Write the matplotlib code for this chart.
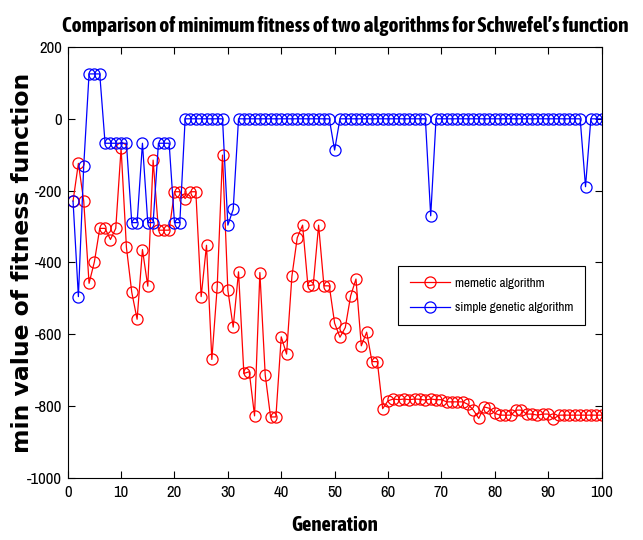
import numpy as np
import matplotlib
matplotlib.use('Agg')
import matplotlib.pyplot as plt
from matplotlib import font_manager

# Data: minimum fitness per generation
generations = list(range(1, 101))

memetic = [
    -229, -124, -229, -458, -398, -305, -305, -336, -305, -82,
    -358, -483, -558, -364, -466, -115, -310, -310, -310, -203,
    -203, -222, -203, -203, -495, -352, -670, -469, -101, -477,
    -580, -426, -709, -704, -827, -428, -713, -830, -830, -607,
    -655, -438, -331, -296, -465, -462, -296, -465, -465, -569,
    -608, -581, -493, -446, -632, -594, -676, -676, -807, -785,
    -780, -782, -780, -782, -780, -781, -783, -780, -782, -782,
    -788, -788, -788, -788, -795, -811, -834, -802, -806, -820,
    -825, -825, -825, -811, -811, -822, -822, -825, -822, -822,
    -836, -825, -825, -825, -825, -825, -825, -825, -825, -825,
]

simple_ga = [
    -229, -495, -131, 125, 125, 125, -68, -68, -68, -68,
    -68, -289, -289, -68, -289, -289, -68, -68, -68, -289,
    -289, 0, 0, 0, 0, 0, 0, 0, 0, -296,
    -252, 0, 0, 0, 0, 0, 0, 0, 0, 0,
    0, 0, 0, 0, 0, 0, 0, 0, 0, -87,
    0, 0, 0, 0, 0, 0, 0, 0, 0, 0,
    0, 0, 0, 0, 0, 0, 0, -270, 0, 0,
    0, 0, 0, 0, 0, 0, 0, 0, 0, 0,
    0, 0, 0, 0, 0, 0, 0, 0, 0, 0,
    0, 0, 0, 0, 0, 0, -189, 0, 0, 0,
]

x_ticks = list(range(0, 101, 10))
y_ticks = list(range(-1000, 201, 200))

plt.rcParams['axes.unicode_minus'] = False

# look for a narrow / condensed face (regular and bold), else Liberation Sans
narrow = {'family': 'Liberation Sans'}
narrow_bold = {'family': 'Liberation Sans'}
cands = [f for f in font_manager.fontManager.ttflist
         if 'Narrow' in f.name or 'Condensed' in f.name]
if cands:
    narrow = {'family': cands[0].name}
    bold = [f for f in cands if int(f.weight) >= 600 if isinstance(f.weight, int)] or \
           [f for f in cands if str(f.weight) in ('bold', 'heavy', 'black', 'semibold', 'demibold')]
    if bold:
        narrow_bold = {'family': bold[0].name}

fig = plt.figure(figsize=(6.43, 5.4), dpi=100)
ax = fig.add_axes([0.1053, 0.1148, 0.8302, 0.7982])

ax.plot(generations, memetic, color='red', linewidth=0.9, marker='o',
        markersize=8, markerfacecolor='none', markeredgewidth=0.9,
        label='memetic algorithm')
ax.plot(generations, simple_ga, color='blue', linewidth=0.9, marker='o',
        markersize=8, markerfacecolor='none', markeredgewidth=0.9,
        label='simple genetic algorithm')

ax.set_xlim(0, 100)
ax.set_ylim(-1000, 200)
ax.set_xticks(x_ticks)
ax.set_yticks(y_ticks)
ax.tick_params(direction='in', top=True, right=True, length=5, width=0.8)
ax.tick_params(axis='y', pad=4)
ax.tick_params(axis='x', pad=5)
for lab in ax.get_xticklabels() + ax.get_yticklabels():
    lab.set(**narrow)
    lab.set_fontsize(12)
for s in ax.spines.values():
    s.set_linewidth(0.8)

title = ax.set_title("Comparison of minimum fitness of two algorithms for Schwefel\u2019s function",
                     fontsize=12, fontweight='bold', pad=11, x=0.52, **narrow_bold)
xlab = ax.set_xlabel('Generation', fontsize=15, fontweight='bold', labelpad=11, **narrow_bold)
ylab = ax.set_ylabel('min value of fitness function', family='DejaVu Sans',
                     fontsize=13, fontweight='bold')
ax.yaxis.set_label_coords(-0.063, 0.5)

prop = dict(narrow)
prop['size'] = 9.5
leg = ax.legend(loc='upper left', bbox_to_anchor=(0.619, 0.492),
                prop=prop, fancybox=False,
                edgecolor='black', framealpha=1, handlelength=3.0,
                handletextpad=0.4, borderpad=0.9, labelspacing=1.0,
                borderaxespad=0)
leg.get_frame().set_linewidth(0.8)

# scale title, x label and y label so they span the same length as the original
fig.canvas.draw()
r = fig.canvas.get_renderer()
for txt, target, horiz in [(title, 565, True), (xlab, 87, True), (ylab, 377, False)]:
    bb = txt.get_window_extent(r)
    size = bb.width if horiz else bb.height
    txt.set_fontsize(txt.get_fontsize() * target / size)

plt.savefig('out.png', dpi=100)
